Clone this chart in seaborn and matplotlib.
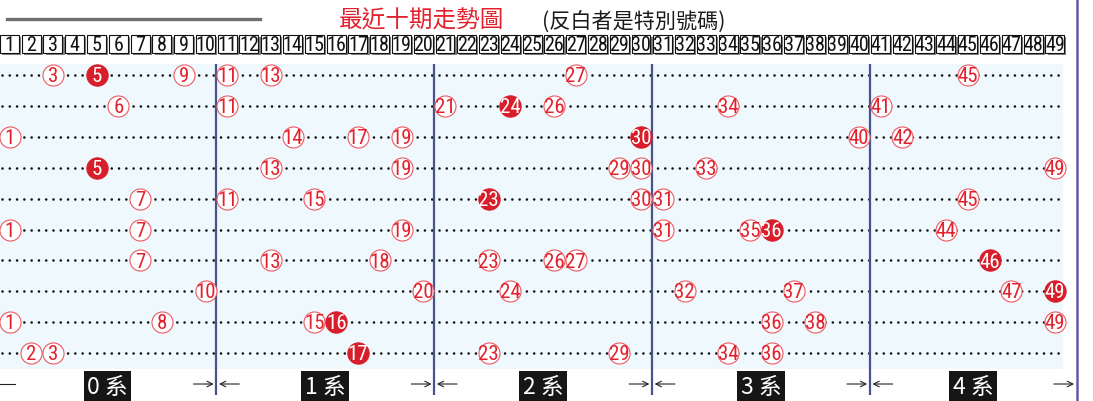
import matplotlib
matplotlib.use("Agg")
import matplotlib.pyplot as plt
from matplotlib.patches import Rectangle
from matplotlib.lines import Line2D
import seaborn as sns
import pandas as pd

# data: last ten draws, special number listed separately
numbers = list(range(1, 50))
draws = [
    [3, 5, 9, 11, 13, 27, 45],
    [6, 11, 21, 24, 26, 34, 41],
    [1, 14, 17, 19, 30, 40, 42],
    [5, 13, 19, 29, 30, 33, 49],
    [7, 11, 15, 23, 30, 31, 45],
    [1, 7, 19, 31, 35, 36, 44],
    [7, 13, 18, 23, 26, 27, 46],
    [10, 20, 24, 32, 37, 47, 49],
    [1, 8, 15, 16, 36, 38, 49],
    [2, 3, 17, 23, 29, 34, 36],
]
specials = [5, 24, 30, 5, 23, 36, 46, 49, 16, 17]
groups = ["0 系", "1 系", "2 系", "3 系", "4 系"]
group_edges = [0.5, 10.5, 20.5, 30.5, 40.5, 50.0]
title = "最近十期走勢圖"
subtitle = "(反白者是特別號碼)"

rows = []
for i, d in enumerate(draws):
    for n in d:
        rows.append({"row": i, "num": n, "special": n == specials[i]})
df = pd.DataFrame(rows)

RED = "#e2212d"
W, H = 1093, 402
fig = plt.figure(figsize=(W / 100, H / 100), dpi=100)
ax = fig.add_axes([0, 0, 1, 1])
x0 = 1 - 9.5 / 21.78
x1 = 1 + (W - 9.5) / 21.78

digit_font = ["Roboto Condensed", "Liberation Sans", "DejaVu Sans"]
cjk_font = ["Noto Sans CJK TC", "DejaVu Sans"]

# light blue background
line_end = 49.37
ax.add_patch(Rectangle((x0, -0.36), line_end - x0, 9.88, fc="#eff8fc", ec="none", zorder=0))

# dotted lines per draw
for i in range(len(draws)):
    ax.plot([1 - 1 / 3, line_end], [i, i], color="#111111", lw=1.9,
            linestyle=(0, (0.01, 2.75)), dash_capstyle="round", zorder=1)

# group separators
ax.vlines(group_edges[1:5], -0.36, 10.36, color="#47538f", lw=1.6, zorder=2)
ax.vlines(group_edges[5], -2.46, 10.55, color="#6658a6", lw=1.8, zorder=2)

# circles
normal = df[~df["special"]]
special = df[df["special"]]
sns.scatterplot(data=normal, x="num", y="row", s=230, color="white",
                edgecolor="#ea5a62", linewidth=0.8, zorder=3, ax=ax, legend=False)
sns.scatterplot(data=special, x="num", y="row", s=235, color="#d81e2a",
                edgecolor="#d81e2a", linewidth=0.8, zorder=3, ax=ax, legend=False)
ax.set_xlim(x0, x1)
ax.set_ylim(10.55, -2.46)
ax.axis("off")

for _, r in df.iterrows():
    ax.text(r["num"], r["row"] + 0.02, str(r["num"]), ha="center", va="center",
            fontsize=15, family=digit_font, color="white" if r["special"] else RED,
            zorder=4)

# header boxes
for n in numbers:
    ax.add_patch(Rectangle((n - 0.44 + 0.1, -1.29 + 0.07), 0.87, 0.58,
                           fc="#808080", ec="none", zorder=2))
    ax.add_patch(Rectangle((n - 0.44, -1.29), 0.87, 0.58,
                           fc="white", ec="#111111", lw=0.8, zorder=3))
    ax.text(n, -0.98, str(n), ha="center", va="center", fontsize=14.5,
            family=digit_font, color="#111111", zorder=4)

# bottom group labels and arrows
for k, g in enumerate(groups):
    cx = (group_edges[k] + group_edges[k + 1]) / 2
    ax.text(cx, 10.07, g, ha="center", va="center", fontsize=16.5, color="white",
            family=cjk_font, zorder=4,
            bbox=dict(boxstyle="square,pad=0.15", fc="#161616", ec="none"))
arrow = dict(arrowstyle="->", lw=0.8, color="#222222", shrinkA=0, shrinkB=0)
for e in group_edges[1:6]:
    ax.annotate("", xy=(e - 0.12, 10.0), xytext=(e - 1.05, 10.0), arrowprops=arrow)
for e in group_edges[1:5]:
    ax.annotate("", xy=(e + 0.12, 10.0), xytext=(e + 1.05, 10.0), arrowprops=arrow)
ax.plot([x0, x0 + 15 / 21.78], [10.0, 10.0], color="#222222", lw=0.8)

# title
fig.add_artist(Line2D([7 / W, 260 / W], [1 - 20 / H] * 2, lw=2.4, color="#6f6f6f"))
fig.text(339 / W, 1 - 21 / H, title, ha="left", va="center", fontsize=17,
         color=RED, family=cjk_font)
fig.text(542 / W, 1 - 22 / H, subtitle, ha="left", va="center", fontsize=15.2,
         color="#1a1a1a", family=cjk_font)

fig.savefig("out.png", dpi=100)
